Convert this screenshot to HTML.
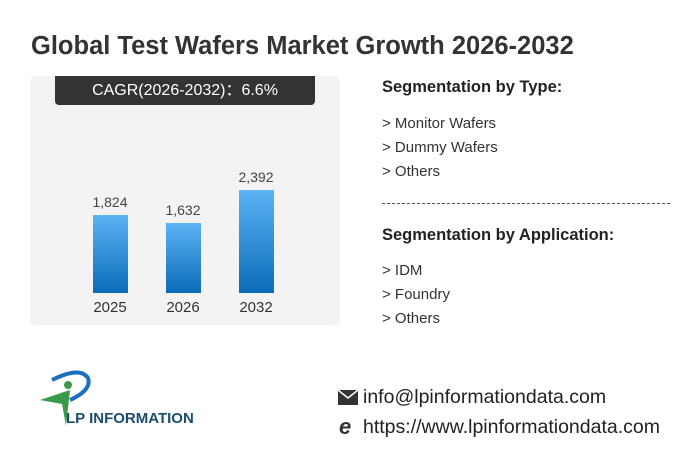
<!DOCTYPE html>
<html><head><style>
body{margin:0;width:700px;height:459px;background:#fff;font-family:"Liberation Sans",sans-serif;position:relative;overflow:hidden;color:#222}
.a{position:absolute;white-space:nowrap}
.bar{position:absolute;width:35px;background:linear-gradient(#5cb3f5,#0b6bb8)}
.v{position:absolute;font-size:14px;color:#444;width:60px;text-align:center}
.y{position:absolute;font-size:15px;color:#333;width:60px;text-align:center;top:299px}
.it{font-size:15px;color:#333}
</style></head><body>
<div class="a" style="left:31px;top:32px;font-size:25.5px;font-weight:bold;color:#333">Global Test Wafers Market Growth 2026-2032</div>
<div class="a" style="left:30px;top:76px;width:310px;height:249px;background:#f3f3f3;border-radius:6px"></div>
<div class="a" style="left:55px;top:76px;width:260px;height:29px;background:#333;border-radius:0 0 4px 4px;color:#fff;font-size:16px;text-align:center;line-height:29px">CAGR(2026-2032)：6.6%</div>
<div class="bar" style="left:93px;top:215px;height:78px"></div>
<div class="bar" style="left:166px;top:223px;height:70px"></div>
<div class="bar" style="left:239px;top:190px;height:103px"></div>
<div class="v" style="left:80px;top:194px">1,824</div>
<div class="v" style="left:153px;top:202px">1,632</div>
<div class="v" style="left:226px;top:169px">2,392</div>
<div class="y" style="left:80px">2025</div>
<div class="y" style="left:153px">2026</div>
<div class="y" style="left:226px">2032</div>
<div class="a" style="left:382px;top:78px;font-size:16.5px;font-weight:bold">Segmentation by Type:</div>
<div class="a it" style="left:382px;top:115px">&gt; Monitor Wafers</div>
<div class="a it" style="left:382px;top:139px">&gt; Dummy Wafers</div>
<div class="a it" style="left:382px;top:163px">&gt; Others</div>
<div class="a" style="left:382px;top:203px;width:288px;border-top:1px dashed #555"></div>
<div class="a" style="left:382px;top:226px;font-size:16.5px;font-weight:bold">Segmentation by Application:</div>
<div class="a it" style="left:382px;top:262px">&gt; IDM</div>
<div class="a it" style="left:382px;top:286px">&gt; Foundry</div>
<div class="a it" style="left:382px;top:310px">&gt; Others</div>
<svg class="a" style="left:40px;top:368px" width="60" height="60">
<path d="M12 12 Q40 -2 48 10 Q52 22 30 32" fill="none" stroke="#1a6fc0" stroke-width="4"/>
<circle cx="28" cy="17" r="4" fill="#3a9a4a"/>
<path d="M0 32 L30 22 L26 58 L22 36 Z" fill="#3a9a4a"/>
</svg>
<div class="a" style="left:66px;top:410px;font-size:15px;font-weight:bold;color:#1a4d6e">LP INFORMATION</div>
<svg class="a" style="left:338px;top:390px" width="20" height="16"><rect x="0" y="0" width="20" height="15" fill="#333"/><path d="M0 0 L10 8 L20 0" fill="none" stroke="#fff" stroke-width="1.5"/></svg>
<div class="a" style="left:363px;top:386px;font-size:19.5px;color:#222">info@lpinformationdata.com</div>
<div class="a" style="left:339px;top:414px;font-size:22px;font-style:italic;font-weight:bold;color:#333">e</div>
<div class="a" style="left:363px;top:416px;font-size:19.5px;color:#222">https://www.lpinformationdata.com</div>
</body></html>
